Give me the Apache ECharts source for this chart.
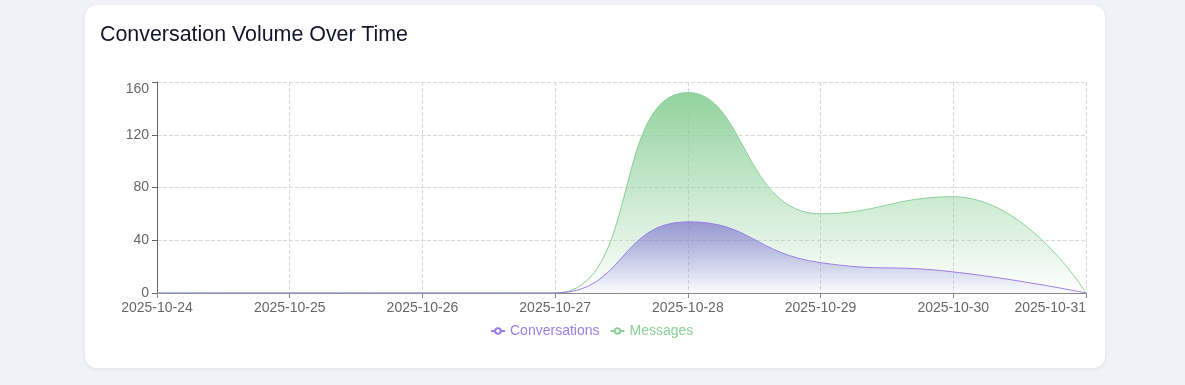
<!DOCTYPE html>
<html>
<head>
<meta charset="utf-8">
<script src="https://cdn.jsdelivr.net/npm/echarts@6/dist/echarts.min.js"></script>
<style>
  html, body { margin: 0; padding: 0; background: #f1f2f7; width: 1185px; height: 385px; overflow: hidden; }
  .card { position: absolute; left: 85px; top: 5px; width: 1020px; height: 363px; background: #fff; border-radius: 12px; box-shadow: 0 1px 4px rgba(0,0,0,0.08); }
  .title { position: absolute; left: 15px; top: 17px; font-family: "Liberation Sans", Arial, sans-serif; font-size: 21.4px; color: #14142b; }
  #chart { position: absolute; left: 0; top: 0; width: 1020px; height: 363px; }
</style>
</head>
<body>
<div class="card">
  <div id="chart"></div>
  <div class="title">Conversation Volume Over Time</div>
</div>
<script>
const categories = ['2025-10-24','2025-10-25','2025-10-26','2025-10-27','2025-10-28','2025-10-29','2025-10-30','2025-10-31'];
const conversations = [0, 0, 0, 0, 54, 23, 16, 0];
const messages = [0, 0, 0, 0, 152, 60, 73, 0];
const seriesNames = ['Conversations', 'Messages'];
const yTicks = { min: 0, max: 160, interval: 40 };

const purple = '#9a7de6';
const green = '#89d197';

const chart = echarts.init(document.getElementById('chart'), null, { renderer: 'canvas' });
chart.setOption({
  animation: false,
  textStyle: { fontFamily: '"Liberation Sans", Arial, sans-serif' },
  grid: { left: 72, top: 77, width: 929, height: 211, containLabel: false, outerBoundsMode: 'none' },
  legend: {
    top: 314,
    left: 400,
    itemWidth: 14,
    itemHeight: 7,
    itemGap: 10,
    textStyle: { fontSize: 14 },
    data: [
      { name: seriesNames[0], textStyle: { color: purple } },
      { name: seriesNames[1], textStyle: { color: green } }
    ]
  },
  xAxis: {
    type: 'category',
    boundaryGap: false,
    data: categories,
    axisLine: { lineStyle: { color: '#888' } },
    axisTick: { show: true, alignWithLabel: true, lineStyle: { color: '#888' } },
    axisLabel: { color: '#666', fontSize: 14, interval: 0, margin: 8, alignMaxLabel: 'right' },
    splitLine: { show: true, lineStyle: { type: 'dashed', color: '#d9d9d9' } }
  },
  yAxis: {
    type: 'value',
    min: yTicks.min, max: yTicks.max, interval: yTicks.interval,
    axisLine: { show: true, lineStyle: { color: '#666' } },
    axisTick: { show: true, lineStyle: { color: '#666' } },
    axisLabel: { color: '#666', fontSize: 14, margin: 8, verticalAlignMaxLabel: 'top' },
    splitLine: { show: true, lineStyle: { type: 'dashed', color: '#d9d9d9' } }
  },
  series: [
    {
      name: seriesNames[0],
      type: 'line',
      smooth: true,
      symbol: 'emptyCircle',
      showSymbol: false,
      data: conversations,
      itemStyle: { color: purple },
      lineStyle: { width: 1, color: purple },
      areaStyle: {
        opacity: 1,
        color: new echarts.graphic.LinearGradient(0, 0, 0, 1, [
          { offset: 0, color: 'rgba(128,120,205,0.72)' },
          { offset: 1, color: 'rgba(128,120,225,0.02)' }
        ])
      },
      z: 3
    },
    {
      name: seriesNames[1],
      type: 'line',
      smooth: true,
      symbol: 'emptyCircle',
      showSymbol: false,
      data: messages,
      itemStyle: { color: green },
      lineStyle: { width: 1, color: green },
      areaStyle: {
        opacity: 1,
        color: new echarts.graphic.LinearGradient(0, 0, 0, 1, [
          { offset: 0, color: 'rgba(140,208,152,0.95)' },
          { offset: 1, color: 'rgba(140,208,152,0.0)' }
        ])
      },
      z: 2
    }
  ]
});
</script>
</body>
</html>
